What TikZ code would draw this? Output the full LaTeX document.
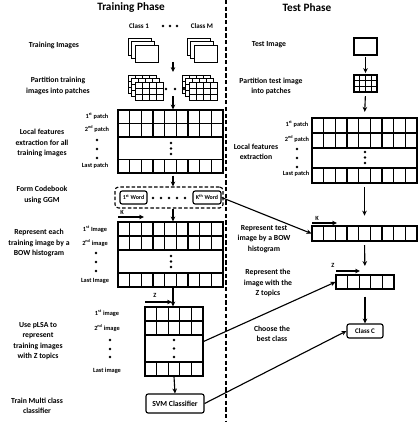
\documentclass[tikz,border=0pt]{standalone}
\usepackage{fontspec}
\setmainfont{Carlito}
\usetikzlibrary{arrows.meta}

\begin{document}
\begin{tikzpicture}[x=0.05cm, y=-0.05cm, line width=1.6pt,
    lbl/.style={font=\fontsize{11}{14.5}\selectfont\bfseries, align=center},
    small/.style={font=\fontsize{9}{10}\selectfont\bfseries},
    title/.style={font=\fontsize{16}{18}\selectfont\bfseries},
    frame/.style={draw, inner sep=0pt},
    rbox/.style={draw, rounded corners=3pt, inner sep=0pt, font=\fontsize{8.5}{9}\selectfont\bfseries},
    arr/.style={-{Stealth[length=7pt,width=6.5pt]}}]
    \useasboundingbox (0,0) rectangle (418,422);

    % titulos y separador
    \node[title] (train) at (131,8) {Training Phase};
    \node[title] (test) at (307,8) {Test Phase};
    \draw[line width=2.2pt, dash pattern=on 6pt off 3.5pt] (226,0) -- (226,422);

    % etiquetas de la fase de entrenamiento
    \node[lbl] (l1) at (54,45) {Training Images};
    \node[lbl] (l2) at (58,86) {Partition training\\images into patches};
    \node[lbl] (l3) at (42,143) {Local features\\extraction for all\\training images};
    \node[lbl] (l4) at (42,195) {Form Codebook\\using GGM};
    \node[lbl] (l5) at (39,243) {Represent each\\training image by a\\BOW histogram};
    \node[lbl] (l6) at (38,341) {Use pLSA to\\represent\\training images\\with Z topics};
    \node[lbl] (l7) at (37,406) {Train Multi class\\classifier};

    % etiquetas de la fase de test
    \node[lbl] (t1) at (269,45) {Test Image};
    \node[lbl] (t2) at (271,86) {Partition test image\\into patches};
    \node[lbl] (t3) at (256,152) {Local features\\extraction};
    \node[lbl] (t4) at (264,239) {Represent test\\image by a BOW\\histogram};
    \node[lbl] (t5) at (268,283) {Represent the\\image with the\\Z topics};
    \node[lbl] (t6) at (272,334) {Choose the\\best class};

    % clases e imagenes apiladas
    \node[font=\fontsize{10}{11}\selectfont\bfseries] (c1) at (139,26) {Class 1};
    \node[font=\fontsize{10}{11}\selectfont\bfseries] (cM) at (202,26) {Class M};
    \foreach \x in {163,170,177}
        \fill (\x,26) circle (2pt);
    \foreach \sx in {128,187}
        \foreach \o in {0,3.5,7}
            \draw[fill=white, line width=1.3pt] ({\sx+\o},{38+\o}) rectangle ++(23,17);

    % parches apilados
    \foreach \sx in {128,182} {
        \foreach \o in {0,3.5,7} {
            \draw[fill=white, line width=1.1pt] ({\sx+\o},{75+\o}) rectangle ++(28,18);
            \foreach \c in {7,14,21}
                \draw[line width=1.1pt] ({\sx+\o+\c},{75+\o}) -- ++(0,18);
            \foreach \r in {6,12}
                \draw[line width=1.1pt] ({\sx+\o},{75+\o+\r}) -- ++(28,0);
        }
    }
    \foreach \x in {166,175,184}
        \fill (\x,89) circle (2pt);
    \coordinate (a1) at (173,62);
    \coordinate (a2) at (173,72);
    \coordinate (a3) at (173,96);
    \draw[arr] (a1) -- (a2);

    % tabla de caracteristicas locales (entrenamiento)
    \node[frame, minimum width=5.25cm, minimum height=3.15cm] (tabA) at (170.5,141.5) {};
    \foreach \r in {123.5,137,159.5}
        \draw (118,\r) -- (223,\r);
    \foreach \c in {1,...,8} {
        \draw ({118+\c*11.667},110) -- ++(0,27);
        \draw ({118+\c*11.667},159.5) -- ++(0,13.5);
    }
    \foreach \y in {143,148.5,154}
        \fill (171,\y) circle (2pt);
    \node[small] (pA1) at (97,116) {1\textsuperscript{st} patch};
    \node[small] (pA2) at (97,129) {2\textsuperscript{nd} patch};
    \foreach \y in {140,149,158}
        \fill (97,\y) circle (2pt);
    \node[small] (pA3) at (95,166) {Last patch};

    % codebook
    \node[draw, rounded corners=5pt, dash pattern=on 5pt off 3pt, minimum width=5.4cm, minimum height=1.05cm] (cb) at (169,197.5) {};
    \node[rbox, minimum width=1.35cm, minimum height=0.65cm] (fword) at (133.5,197.5) {1\textsuperscript{st} Word};
    \node[rbox, minimum width=1.4cm, minimum height=0.65cm] (kword) at (207,197.5) {K\textsuperscript{th} Word};
    \foreach \x in {153,161,169,177,185}
        \fill (\x,198) circle (2pt);

    % histograma BOW (entrenamiento)
    \node[frame, minimum width=5.25cm, minimum height=3.25cm] (tabB) at (170.5,254.5) {};
    \foreach \r in {236,250,273}
        \draw (118,\r) -- (223,\r);
    \foreach \c in {1,...,8} {
        \draw ({118+\c*11.667},222) -- ++(0,28);
        \draw ({118+\c*11.667},273) -- ++(0,14);
    }
    \foreach \y in {256,261.5,267}
        \fill (171,\y) circle (2pt);
    \node[small] (iB1) at (95,229) {1\textsuperscript{st} Image};
    \node[small] (iB2) at (95,243) {2\textsuperscript{nd} image};
    \foreach \y in {253,262,271}
        \fill (96,\y) circle (2pt);
    \node[small] (iB3) at (95,281) {Last Image};
    \node[small] (kA) at (122,212) {K};
    \coordinate (kAs) at (118,217);
    \coordinate (kAe) at (144,217);
    \draw[arr] (kAs) -- (kAe);

    % temas Z con pLSA (entrenamiento)
    \node[frame, minimum width=2.9cm, minimum height=3.45cm] (tabC) at (174,341.5) {};
    \foreach \r in {321,335,362}
        \draw (145,\r) -- (203,\r);
    \foreach \c in {1,...,4} {
        \draw ({145+\c*11.6},307) -- ++(0,28);
        \draw ({145+\c*11.6},362) -- ++(0,14);
    }
    \foreach \y in {340,348.5,357}
        \fill (174,\y) circle (2pt);
    \node[small] (iC1) at (107,313) {1\textsuperscript{st} image};
    \node[small] (iC2) at (107,328) {2\textsuperscript{nd} image};
    \foreach \y in {340,349,357}
        \fill (110,\y) circle (2pt);
    \node[small] (iC3) at (107,371) {Last image};
    \node[small] (zA) at (155,295) {Z};
    \coordinate (zAs) at (145,302);
    \coordinate (zAe) at (172,302);
    \draw[arr] (zAs) -- (zAe);

    \node[rbox, minimum width=2.9cm, minimum height=0.95cm, font=\fontsize{11}{12}\selectfont\bfseries] (svm) at (175,403.5) {SVM Classifier};

    % flechas de la fase de entrenamiento
    \draw[arr] (a3) -- (a3 |- tabA.north);
    \draw[arr, shorten <=3pt] (a3 |- tabA.south) -- (a3 |- cb.north);
    \draw[arr] (a3 |- cb.south) -- (a3 |- tabB.north);
    \draw[arr] (a3 |- tabB.south) -- (a3 |- tabC.north);
    \draw[arr] (tabC.south) -- (svm.north);

    % fase de test
    \node[frame, minimum width=1.15cm, minimum height=0.85cm] (timg) at (365.5,46.5) {};
    \node[frame, minimum width=1.15cm, minimum height=0.85cm] (tgrid) at (365.5,83.5) {};
    \foreach \c in {1,2,3}
        \draw[line width=1.1pt] ({354+\c*5.75},75) -- ++(0,17);
    \foreach \r in {1,2}
        \draw[line width=1.1pt] (354,{75+\r*5.67}) -- ++(23,0);

    \node[frame, minimum width=5.25cm, minimum height=3.25cm] (tabD) at (364.5,150.5) {};
    \foreach \r in {133,148,168}
        \draw (312,\r) -- (417,\r);
    \foreach \c in {1,...,8} {
        \draw ({312+\c*11.667},118) -- ++(0,30);
        \draw ({312+\c*11.667},168) -- ++(0,15);
    }
    \foreach \y in {152,157.5,163}
        \fill (365,\y) circle (2pt);
    \node[small] (pD1) at (297,124) {1\textsuperscript{st} patch};
    \node[small] (pD2) at (297,139) {2\textsuperscript{nd} patch};
    \foreach \y in {149,158,167}
        \fill (297,\y) circle (2pt);
    \node[small] (pD3) at (296,174) {Last patch};

    \node[frame, minimum width=5.25cm, minimum height=0.75cm] (tabE) at (364.5,233.5) {};
    \foreach \c in {1,...,8}
        \draw ({312+\c*11.667},226) -- ++(0,15);
    \node[small] (kB) at (317,218) {K};
    \coordinate (kBs) at (312,223);
    \coordinate (kBe) at (337,223);
    \draw[arr] (kBs) -- (kBe);

    \node[frame, minimum width=2.9cm, minimum height=0.7cm] (tabF) at (365,282) {};
    \foreach \c in {1,...,4}
        \draw ({336+\c*11.6},275) -- ++(0,14);
    \node[small] (zB) at (333,265) {Z};
    \coordinate (zBs) at (336,271);
    \coordinate (zBe) at (360,271);
    \draw[arr] (zBs) -- (zBe);

    \node[rbox, minimum width=1.8cm, minimum height=0.7cm, font=\fontsize{10}{11}\selectfont\bfseries] (classc) at (365,331) {Class C};

    % flechas de la fase de test
    \draw[arr, shorten <=2pt, shorten >=2pt] (timg.south) -- (tgrid.north);
    \draw[arr, shorten <=5pt, shorten >=8pt] (tgrid.south) -- (tabD.north);
    \draw[arr, shorten <=5pt, shorten >=14pt] (tabD.south) -- (tabE.north);
    \draw[arr, shorten <=5pt, shorten >=12pt] (tabE.south) -- (tabF.north);
    \draw[arr, shorten <=10pt] (tabF.south) -- (classc.north);

    % flechas entre fases
    \draw[arr] (kword.east) -- (tabE.west);
    \draw[arr] (tabC.east) -- (tabF.west);
    \draw[arr] (svm.east) -- (classc.west);
\end{tikzpicture}
\end{document}
